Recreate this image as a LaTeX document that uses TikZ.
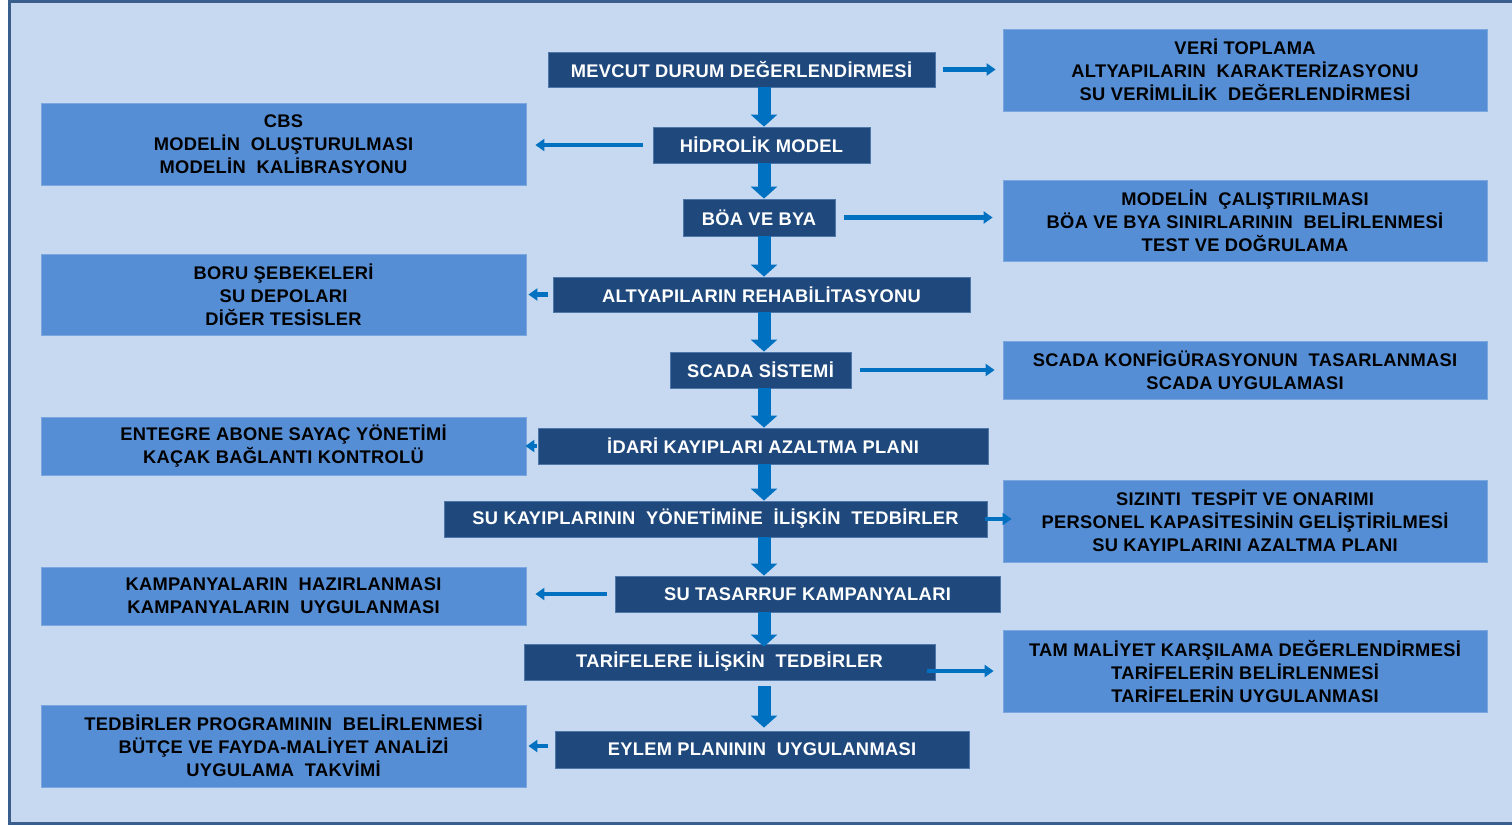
\documentclass[tikz,border=0pt]{standalone}
\usepackage{fontspec}
\setmainfont{Liberation Sans}[LetterSpace=1.7]
\usetikzlibrary{arrows.meta}
\definecolor{bgcol}{HTML}{C6D9F1}
\definecolor{framecol}{HTML}{3B5F8C}
\definecolor{darkbox}{HTML}{1F497D}
\definecolor{darkedge}{HTML}{4F76A8}
\definecolor{midbox}{HTML}{558ED5}
\definecolor{midedge}{HTML}{7AA7E0}
\definecolor{arrcol}{HTML}{0070C0}
\tikzset{
  cbox/.style={fill=darkbox, draw=darkedge, line width=0.8pt, text=white, font=\fontsize{18.3}{23}\selectfont\bfseries, inner sep=0pt, align=center},
  sbox/.style={fill=midbox, draw=midedge, line width=0.8pt, text=black, font=\fontsize{18.3}{23}\selectfont\bfseries, inner sep=0pt, align=center, minimum height=82pt},
  rbox/.style={sbox, minimum width=484pt},
  lbox/.style={sbox, minimum width=485pt},
  downarrow/.style={draw=arrcol, line width=13pt, -{Triangle[width=26pt,length=12pt]}},
  sidearrow/.style={draw=arrcol, line width=4.5pt, -{Triangle[width=12pt,length=9pt]}}
}
\begin{document}
\begin{tikzpicture}[x=1pt,y=-1pt]
\useasboundingbox (0,0) rectangle (1512,825);
\draw[framecol, line width=3pt, fill=bgcol] (9,1.5) rectangle (1518,823.5);
\coordinate (ax) at (764,0);
% central boxes
\node[cbox, minimum width=387pt, minimum height=35pt] (m1) at (741.5,69.5) {MEVCUT DURUM DEĞERLENDİRMESİ};
\node[cbox, minimum width=217pt, minimum height=36pt] (m2) at (761.5,145) {HİDROLİK MODEL};
\node[cbox, minimum width=152pt, minimum height=37pt] (m3) at (759,217.5) {BÖA VE BYA};
\node[cbox, minimum width=417pt, minimum height=35pt] (m4) at (761.5,294.5) {ALTYAPILARIN REHABİLİTASYONU};
\node[cbox, minimum width=181pt, minimum height=36pt] (m5) at (760.5,370) {SCADA SİSTEMİ};
\node[cbox, minimum width=450pt, minimum height=36pt] (m6) at (763,446) {İDARİ KAYIPLARI AZALTMA PLANI};
\node[cbox, minimum width=543pt, minimum height=36pt] (m7) at (715.5,519) {SU KAYIPLARININ~ YÖNETİMİNE~ İLİŞKİN~ TEDBİRLER};
\node[cbox, minimum width=385pt, minimum height=36pt] (m8) at (807.5,594) {SU TASARRUF KAMPANYALARI};
\node[cbox, minimum width=411pt, minimum height=36pt] (m9) at (729.5,662) {TARİFELERE İLİŞKİN~ TEDBİRLER};
\node[cbox, minimum width=414pt, minimum height=37pt] (m10) at (762,749.5) {EYLEM PLANININ~ UYGULANMASI};
% right boxes
\node[rbox] (r1) at (1245,70) {VERİ TOPLAMA\\ALTYAPILARIN~ KARAKTERİZASYONU\\SU VERİMLİLİK~ DEĞERLENDİRMESİ};
\node[rbox, minimum height=81pt] (r2) at (1245,220.5) {MODELİN~ ÇALIŞTIRILMASI\\BÖA VE BYA SINIRLARININ~ BELİRLENMESİ\\TEST VE DOĞRULAMA};
\node[rbox, minimum height=58pt] (r3) at (1245,370) {SCADA KONFİGÜRASYONUN~ TASARLANMASI\\SCADA UYGULAMASI};
\node[rbox] (r4) at (1245,521) {SIZINTI~ TESPİT VE ONARIMI\\PERSONEL KAPASİTESİNİN GELİŞTİRİLMESİ\\SU KAYIPLARINI AZALTMA PLANI};
\node[rbox] (r5) at (1245,671) {TAM MALİYET KARŞILAMA DEĞERLENDİRMESİ\\TARİFELERİN BELİRLENMESİ\\TARİFELERİN UYGULANMASI};
% left boxes
\node[lbox] (l1) at (283.5,144) {CBS\\MODELİN~ OLUŞTURULMASI\\MODELİN~ KALİBRASYONU};
\node[lbox, minimum height=81pt] (l2) at (283.5,294.5) {BORU ŞEBEKELERİ\\SU DEPOLARI\\DİĞER TESİSLER};
\node[lbox, minimum height=58pt] (l3) at (283.5,446) {ENTEGRE ABONE SAYAÇ YÖNETİMİ\\KAÇAK BAĞLANTI KONTROLÜ};
\node[lbox, minimum height=58pt] (l4) at (283.5,596) {KAMPANYALARIN~ HAZIRLANMASI\\KAMPANYALARIN~ UYGULANMASI};
\node[lbox] (l5) at (283.5,746) {TEDBİRLER PROGRAMININ~ BELİRLENMESİ\\BÜTÇE VE FAYDA-MALİYET ANALİZİ\\UYGULAMA~ TAKVİMİ};
% down arrows
\draw[downarrow] (m1.south -| ax) -- (m2.north -| ax);
\draw[downarrow] (m2.south -| ax) -- (m3.north -| ax);
\draw[downarrow] (m3.south -| ax) -- (m4.north -| ax);
\draw[downarrow] (m4.south -| ax) -- (m5.north -| ax);
\draw[downarrow] (m5.south -| ax) -- (m6.north -| ax);
\draw[downarrow] (m6.south -| ax) -- (m7.north -| ax);
\draw[downarrow] (m7.south -| ax) -- (m8.north -| ax);
\draw[downarrow] (m8.south -| ax) -- ([yshift=-3pt]m9.north -| ax);
\draw[downarrow, shorten <=6pt, shorten >=3pt] (m9.south -| ax) -- (m10.north -| ax);
% side arrows
\draw[sidearrow, shorten <=8pt, shorten >=7pt] (m1.east) -- (m1.east -| r1.west);
\draw[sidearrow, shorten <=10pt, shorten >=9pt] (m2.west) -- (m2.west -| l1.east);
\draw[sidearrow, shorten <=9pt, shorten >=10pt] (m3.east) -- (m3.east -| r2.west);
\draw[sidearrow, shorten <=5pt, shorten >=2pt] (m4.west) -- (m4.west -| l2.east);
\draw[sidearrow, shorten <=9pt, shorten >=8pt] (m5.east) -- (m5.east -| r3.west);
\draw[sidearrow, shorten <=1pt, shorten >=-1pt] (m6.west) -- (m6.west -| l3.east);
\draw[sidearrow, shorten <=-2pt, shorten >=-9pt] (m7.east) -- (m7.east -| r4.west);
\draw[sidearrow, shorten <=8pt, shorten >=9pt] (m8.west) -- (m8.west -| l4.east);
\draw[sidearrow, shorten <=-8pt, shorten >=9pt] (m9.east |- r5.west) -- (r5.west);
\draw[sidearrow, shorten <=7pt, shorten >=2pt] (l5.east -| m10.west) -- (l5.east);
\end{tikzpicture}
\end{document}
